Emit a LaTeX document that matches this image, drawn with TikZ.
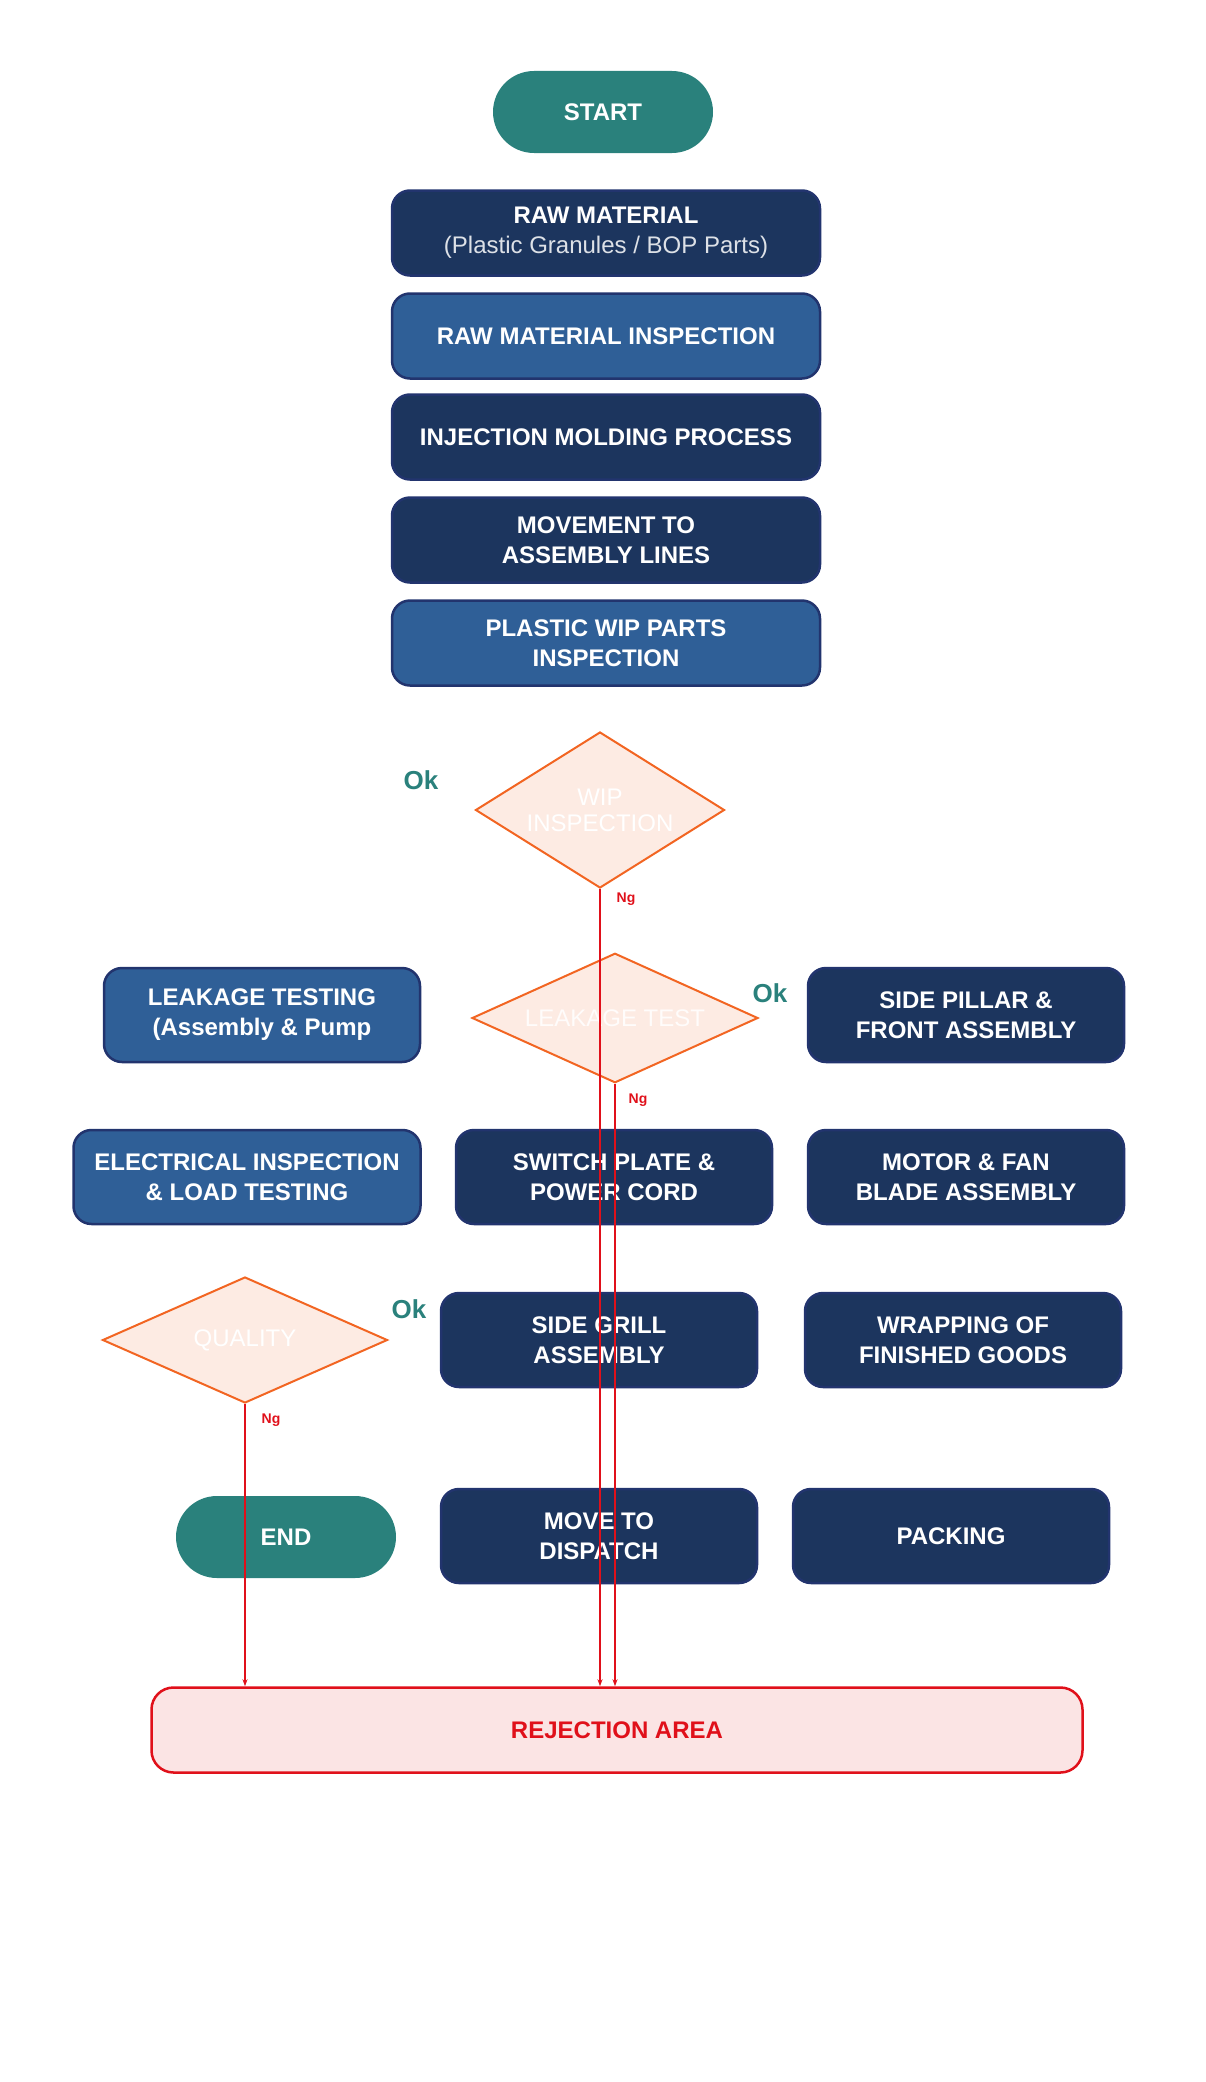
\documentclass[tikz,border=0pt]{standalone}
\usepackage{fontspec}
\setmainfont{Liberation Sans}
\usetikzlibrary{shapes.geometric,arrows.meta}
\definecolor{navy}{HTML}{1C355E}
\definecolor{mblue}{HTML}{2F5F97}
\definecolor{bord}{HTML}{22346E}
\definecolor{teal}{HTML}{2A817C}
\definecolor{orng}{HTML}{F26522}
\definecolor{peach}{HTML}{FDEBE3}
\definecolor{rred}{HTML}{E0101A}
\definecolor{pink}{HTML}{FBE4E4}
\begin{document}
\begin{tikzpicture}[x=1pt,y=-1pt,
 box/.style={draw=bord,line width=2.5pt,rounded corners=18pt,fill=navy,text=white,minimum width=428pt,minimum height=85pt,align=center,font=\fontsize{24}{36}\selectfont\bfseries},
 sbox/.style={box,minimum width=316pt,minimum height=94pt},
 lb/.style={fill=mblue},
 term/.style={rounded corners=41pt,fill=teal,text=white,minimum width=220pt,minimum height=82pt,font=\fontsize{24}{30}\selectfont\bfseries},
 dia/.style={diamond,draw=orng,line width=2pt,fill=peach,text=white,aspect=1.6,inner sep=0pt,font=\fontsize{24}{30}\selectfont,align=center},
 ok/.style={text=teal,font=\fontsize{26}{30}\selectfont\bfseries},
 ng/.style={text=rred,font=\fontsize{14}{16}\selectfont\bfseries},
 rej/.style={draw=rred,line width=1.5pt,-{Stealth[length=7pt,width=5pt]}}]
\useasboundingbox (0,0) rectangle (1206,2082);
\node[term] (start) at (603,112) {START};
\node[box] (raw) at (606,233) {RAW MATERIAL\\[-6pt]{\mdseries\color{white!85!navy}(Plastic Granules / BOP Parts)}};
\node[box,lb] (rmi) at (606,336) {RAW MATERIAL INSPECTION};
\node[box] (inj) at (606,437) {INJECTION MOLDING PROCESS};
\node[box] (mov) at (606,540) {MOVEMENT TO\\[-6pt]ASSEMBLY LINES};
\node[box,lb] (wip) at (606,643) {PLASTIC WIP PARTS\\[-6pt]INSPECTION};
\node[dia,minimum width=249pt,minimum height=156pt] (d1) at (600,810) {WIP\\[-4pt]INSPECTION};
\node[ok] (ok1) at (421,780) {Ok};
\node[ng] (ng1) at (626,899) {Ng};
\node[dia,minimum width=286pt,minimum height=127pt,text=white!85!peach] (d2) at (615,1018) {LEAKAGE TEST};
\node[ok] (ok2) at (770,993) {Ok};
\node[ng] (ng2) at (638,1100) {Ng};
\node[sbox,lb] (leak) at (262,1015) {LEAKAGE TESTING\\[-6pt](Assembly \& Pump};
\node[sbox] (side) at (966,1015) {SIDE PILLAR \&\\[-6pt]FRONT ASSEMBLY};
\node[sbox,lb,minimum width=347pt] (elec) at (247,1177) {ELECTRICAL INSPECTION\\[-6pt]\& LOAD TESTING};
\node[sbox] (sw) at (614,1177) {SWITCH PLATE \&\\[-6pt]POWER CORD};
\node[sbox] (mot) at (966,1177) {MOTOR \& FAN\\[-6pt]BLADE ASSEMBLY};
\node[dia,minimum width=285pt,minimum height=126pt] (d3) at (245,1340) {QUALITY};
\node[ok] (ok3) at (409,1309) {Ok};
\node[ng] (ng3) at (271,1420) {Ng};
\node[sbox] (grill) at (599,1340) {SIDE GRILL\\[-6pt]ASSEMBLY};
\node[sbox] (wrap) at (963,1340) {WRAPPING OF\\[-6pt]FINISHED GOODS};
\node[term] (end) at (286,1537) {END};
\node[sbox] (disp) at (599,1536) {MOVE TO\\[-6pt]DISPATCH};
\node[sbox] (pack) at (951,1536) {PACKING};
\node[draw=rred,line width=2.5pt,fill=pink,rounded corners=22pt,minimum width=931pt,minimum height=85pt,text=rred,font=\fontsize{24}{30}\selectfont\bfseries] (rejn) at (617,1730) {REJECTION AREA};
\coordinate (a1) at (d1.south);
\coordinate (a2) at (d2.south);
\coordinate (a3) at (d3.south);
\draw[rej] (a1) -- (a1 |- rejn.north);
\draw[rej] (a2) -- (a2 |- rejn.north);
\draw[rej] (a3) -- (a3 |- rejn.north);
\end{tikzpicture}
\end{document}
